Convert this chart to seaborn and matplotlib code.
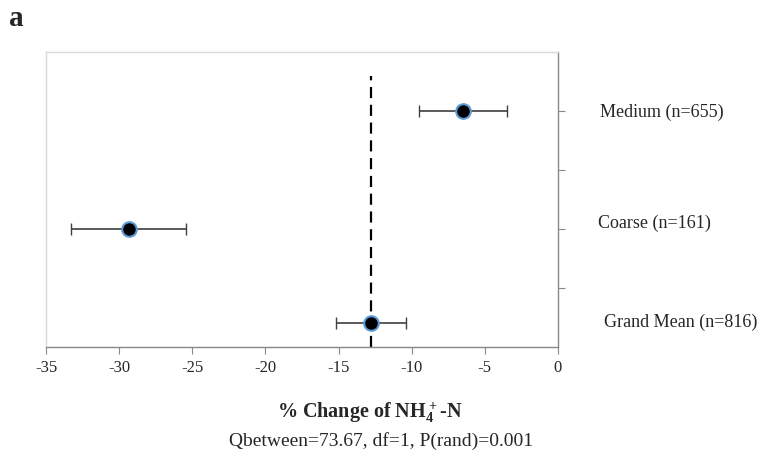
import matplotlib
matplotlib.use("Agg")
import matplotlib.pyplot as plt
import seaborn as sns
import pandas as pd

# Data
groups = ['Medium (n=655)', 'Coarse (n=161)', 'Grand Mean (n=816)']
means = [-6.5, -29.3, -12.8]
ci_low = [-9.5, -33.3, -15.2]
ci_high = [-3.5, -25.4, -10.4]
grand_mean = -12.8
stats_text = 'Qbetween=73.67, df=1, P(rand)=0.001'

# vertical position of each row on the plot
row_y = [4, 2, 0.4]

df = pd.DataFrame({'group': groups, 'mean': means, 'lo': ci_low, 'hi': ci_high, 'y': row_y})

sns.set_style('white')
plt.rcParams['font.family'] = ['Liberation Serif', 'DejaVu Serif']
plt.rcParams['mathtext.fontset'] = 'custom'
plt.rcParams['mathtext.rm'] = 'Liberation Serif:bold'
plt.rcParams['mathtext.default'] = 'rm'

fig = plt.figure(figsize=(7.63, 4.72), dpi=100)
ax = fig.add_axes([46 / 763, 1 - 347 / 472, (558 - 46) / 763, (347 - 52) / 472])

# reference line at the grand mean
ax.plot([grand_mean, grand_mean], [0, 4.6], color='black', lw=1.6, ls=(0, (5, 3)), zorder=1)

# confidence intervals
ax.errorbar(df['mean'], df['y'],
            xerr=[df['mean'] - df['lo'], df['hi'] - df['mean']],
            fmt='none', ecolor='#404040', elinewidth=1.2, capsize=4, capthick=1.0, zorder=2)

sns.scatterplot(data=df, x='mean', y='y', ax=ax, color='black', s=110,
                edgecolor='#5b9bd5', linewidth=1.5, zorder=3, legend=False)

ax.set_xlim(-35, 0)
ax.set_ylim(0, 5)
ax.set_xticks(range(-35, 1, 5))
ax.set_xticklabels([str(v) for v in range(-35, 1, 5)], fontsize=12)
ax.set_yticks([1, 2, 3, 4])
ax.set_yticklabels([])
ax.yaxis.tick_right()
ax.tick_params(axis='y', direction='out', length=5, color='#888888', right=True, left=False)
ax.tick_params(axis='x', direction='out', length=5, color='#888888', bottom=True, pad=4)
ax.set_xlabel('')
ax.set_ylabel('')

for side in ['left', 'top']:
    ax.spines[side].set_color('#d9d9d9')
    ax.spines[side].set_linewidth(1.0)
for side in ['right', 'bottom']:
    ax.spines[side].set_color('#888888')
    ax.spines[side].set_linewidth(1.0)

# row labels to the right of the plot (slightly shifted like the original)
for name, y, dx, dy in zip(groups, row_y, [0.0, -0.003, 0.007], [-0.005, 0.02, 0.005]):
    ax.text(1.082 + dx, y / 5 + dy, name, transform=ax.transAxes,
            ha='left', va='center', fontsize=13)

fig.text(0.485, 1 - 413 / 472, '% Change of NH$_4^+$-N', ha='center', va='center',
         fontsize=14.5, fontweight='bold')
fig.text(0.5, 1 - 441 / 472, stats_text, ha='center', va='center', fontsize=14)
fig.text(0.012, 1 - 18 / 472, 'a', ha='left', va='center', fontsize=21, fontweight='bold')

fig.savefig('out.png', dpi=100)
